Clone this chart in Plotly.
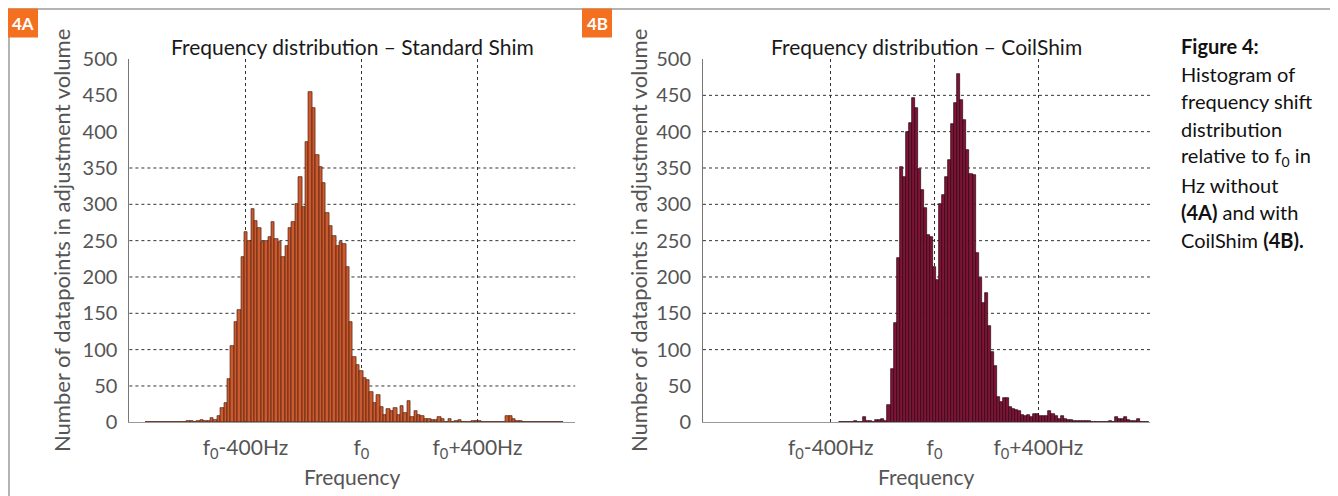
import plotly.graph_objects as go

# ---------------- data ----------------
BIN_HZ = 11.7                      # histogram bin width (Hz)
left_first_center_hz = -398 - 29 * BIN_HZ   # centre of first bin, Standard Shim
right_first_center_hz = 0 - 31 * BIN_HZ     # centre of first bin, CoilShim

left_counts = [
    1, 0, 1, 1, 0, 1, 1, 1, 1, 1, 0, 1, 2, 2, 1, 2, 3, 2, 2, 6,
    3, 9, 19, 26, 59, 105, 138, 155, 228, 262, 250, 294, 277, 268, 248, 250,
    255, 275, 252, 248, 228, 242, 267, 276, 300, 338, 297, 386, 454, 432,
    368, 352, 330, 288, 270, 256, 242, 248, 246, 214, 138, 90, 79, 70, 61,
    58, 42, 26, 38, 21, 10, 18, 16, 19, 10, 22, 13, 30, 7, 15, 10, 9, 4, 5,
    3, 3, 7, 4, 1, 5, 1, 2, 3, 0, 0, 0, 2, 2, 2, 1, 1, 1, 0, 0, 0, 0, 9, 8,
    4, 2, 2, 0, 0, 0, 0, 0, 0, 1, 0, 0, 0, 0, 1,
]

right_counts = [
    1, 0, 1, 1, 0, 2, 1, 0, 7, 2, 2, 1, 3, 3, 4, 2, 24, 73, 137, 226,
    351, 338, 400, 412, 447, 432, 349, 320, 295, 258, 255, 214, 196, 301,
    313, 338, 361, 411, 439, 480, 443, 416, 375, 342, 340, 233, 198, 164,
    178, 133, 97, 77, 35, 28, 34, 33, 21, 18, 17, 15, 10, 8, 10, 7, 11, 12,
    9, 9, 9, 15, 11, 9, 5, 8, 5, 3, 3, 2, 2, 2, 2, 2, 2, 1, 1, 1, 1, 0, 0,
    2, 0, 7, 5, 4, 7, 3, 2, 2, 4, 0, 1, 1,
]

left_range_hz = [-800, 737]
right_range_hz = [-892, 830]
y_range = [0, 500]
y_ticks = list(range(0, 501, 50))
left_grid_levels = [50, 100, 150, 200, 250, 300, 350]
right_grid_levels = [100, 150, 200, 250, 300, 350, 400, 450]
x_tick_hz = [-400, 0, 400]
x_tick_text = ["f<sub>0</sub>-400Hz", "f<sub>0</sub>", "f<sub>0</sub>+400Hz"]

left_title = "Frequency distribution – Standard Shim"
right_title = "Frequency distribution – CoilShim"
y_title = "Number of datapoints in adjustment volume"
x_title = "Frequency"
caption_lines = [
    "<b>Figure 4:</b>",
    "Histogram of",
    "frequency shift",
    "distribution",
    "relative to f<sub>0</sub> in",
    "Hz without",
    "<b>(4A)</b> and with",
    "CoilShim <b>(4B).</b>",
]
panel_labels = ["4A", "4B"]

# ---------------- figure ----------------
W, H = 1338, 496
OFF = 8          # the page body margin shifts the figure by 8 px; compensate
FONT = "Lato"


def px(xp):
    return (xp - OFF) / W


def py(yp):
    return 1 - (yp - OFF) / H


left_x = [left_first_center_hz + i * BIN_HZ for i in range(len(left_counts))]
right_x = [right_first_center_hz + i * BIN_HZ for i in range(len(right_counts))]

fig = go.Figure()
fig.add_trace(go.Bar(
    x=left_x, y=left_counts, width=BIN_HZ, xaxis="x", yaxis="y",
    marker=dict(color="#cd5a2e", line=dict(color="#4a1c0e", width=0.7)),
    showlegend=False, hoverinfo="x+y",
))
fig.add_trace(go.Bar(
    x=right_x, y=right_counts, width=BIN_HZ, xaxis="x2", yaxis="y2",
    marker=dict(color="#7e1436", line=dict(color="#2a0410", width=0.7)),
    showlegend=False, hoverinfo="x+y",
))

ydom = [py(422.3), py(59)]
xdomL = [px(129.4), px(575.2)]
xdomR = [px(703), px(1150)]

xaxis_common = dict(
    tickvals=x_tick_hz, ticktext=x_tick_text,
    showgrid=True, griddash="dot", gridcolor="#333", gridwidth=1,
    zeroline=False, showline=True, linecolor="#9a9a9a", linewidth=1,
    ticks="", tickfont=dict(family=FONT, size=21, color="#555"),
    ticklabelstandoff=6, fixedrange=True, automargin=False,
)
yaxis_common = dict(
    range=y_range, tickvals=y_ticks, showgrid=False, zeroline=False,
    showline=True, linecolor="#777", linewidth=1, ticks="",
    tickfont=dict(family=FONT, size=20, color="#555"),
    ticklabelstandoff=7, fixedrange=True, automargin=False,
)

fig.update_layout(
    width=W, height=H, autosize=False,
    margin=dict(l=0, r=0, t=0, b=0, pad=0, autoexpand=False),
    paper_bgcolor="white", plot_bgcolor="white",
    bargap=0, barmode="overlay",
    font=dict(family=FONT, color="#222"),
    xaxis=dict(domain=xdomL, range=left_range_hz, anchor="y", **xaxis_common),
    yaxis=dict(domain=ydom, anchor="x", **yaxis_common),
    xaxis2=dict(domain=xdomR, range=right_range_hz, anchor="y2", **xaxis_common),
    yaxis2=dict(domain=ydom, anchor="x2", **yaxis_common),
)

shapes = []
# outer frame
shapes.append(dict(type="rect", xref="paper", yref="paper",
                   x0=px(9), x1=px(1334), y0=py(520), y1=py(9),
                   line=dict(color="#b4b4b4", width=2), fillcolor="rgba(0,0,0,0)",
                   layer="below"))
# horizontal dotted grid lines
for lvl in left_grid_levels:
    shapes.append(dict(type="line", xref="x domain", yref="y", x0=0, x1=1,
                       y0=lvl, y1=lvl, layer="below",
                       line=dict(color="#333", width=1, dash="dot")))
for lvl in right_grid_levels:
    shapes.append(dict(type="line", xref="x2 domain", yref="y2", x0=0, x1=1,
                       y0=lvl, y1=lvl, layer="below",
                       line=dict(color="#333", width=1, dash="dot")))
# panel label boxes
box_x = [(8, 38), (582, 612)]
for (a, b) in box_x:
    shapes.append(dict(type="rect", xref="paper", yref="paper",
                       x0=px(a), x1=px(b), y0=py(37.5), y1=py(8.5),
                       line=dict(width=0), fillcolor="#f37021"))
fig.update_layout(shapes=shapes)

ann = []
for lab, (a, b) in zip(panel_labels, box_x):
    ann.append(dict(text=f"<b>{lab}</b>", x=px((a + b) / 2), y=py(23.5), xref="paper",
                    yref="paper", showarrow=False, xanchor="center", yanchor="middle",
                    font=dict(family=FONT, size=17, color="white")))
for title, dom in [(left_title, xdomL), (right_title, xdomR)]:
    ann.append(dict(text=title, x=(dom[0] + dom[1]) / 2, y=py(46), xref="paper",
                    yref="paper", showarrow=False, xanchor="center", yanchor="middle",
                    font=dict(family=FONT, size=21, color="#1a1a1a")))
    ann.append(dict(text=x_title, x=(dom[0] + dom[1]) / 2, y=py(476), xref="paper",
                    yref="paper", showarrow=False, xanchor="center", yanchor="middle",
                    font=dict(family=FONT, size=21, color="#555")))
for xc in [61, 638]:
    ann.append(dict(text=y_title, x=px(xc), y=py(241), xref="paper", yref="paper",
                    showarrow=False, textangle=-90, xanchor="center", yanchor="middle",
                    font=dict(family=FONT, size=22, color="#555")))
for i, line in enumerate(caption_lines):
    ann.append(dict(text=line, x=px(1179), y=py(46 + i * 27.7), xref="paper",
                    yref="paper", showarrow=False, xanchor="left", yanchor="middle",
                    font=dict(family=FONT, size=20, color="#111")))
fig.update_layout(annotations=ann)

fig.write_html("out.html")
